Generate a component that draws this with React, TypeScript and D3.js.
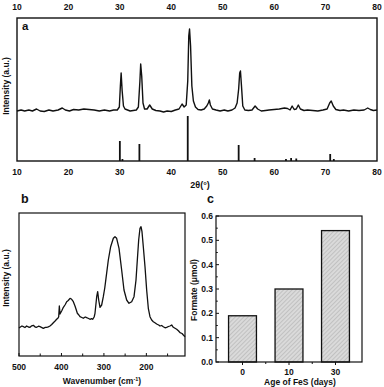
import React from 'react';
import * as d3 from 'd3';

// (a) XRD pattern: [2theta, intensity a.u.]
const xrdTrace: [number, number][] = [
  [10, 50], [10.8, 51], [11.5, 50], [12.3, 51], [13, 50], [13.8, 52], [14.5, 50], [15.3, 49.5],
  [16.2, 51], [17, 50], [18, 51], [18.8, 53], [19.4, 51], [20.2, 50], [21, 51.5], [22, 51],
  [23, 52], [24, 51.5], [25, 51], [26, 50], [27, 51], [28, 50], [28.8, 51], [29.5, 51],
  [29.9, 54], [30.1, 75], [30.25, 88], [30.45, 70], [30.7, 55], [31, 52], [31.5, 51], [32, 50],
  [32.6, 50.5], [33.2, 51], [33.6, 54], [33.9, 80], [34.05, 97], [34.25, 85], [34.5, 58], [34.8, 52],
  [35.3, 52], [35.8, 56], [36.3, 52], [37, 50.5], [37.8, 50], [38.5, 49], [39.2, 50], [40, 49.5],
  [40.8, 51], [41.5, 52], [42.1, 57], [42.5, 54], [42.9, 56], [43.2, 80], [43.4, 125], [43.55, 132],
  [43.75, 115], [44, 75], [44.3, 60], [44.7, 54], [45.2, 51.5], [45.8, 51], [46.4, 52], [46.9, 55],
  [47.2, 58], [47.4, 61], [47.6, 56], [48, 52], [48.7, 51], [49.5, 50], [50.3, 51], [51, 50],
  [51.8, 51], [52.4, 53], [52.8, 58], [53.1, 72], [53.3, 88], [53.45, 90], [53.65, 75], [53.9, 55],
  [54.3, 51], [55, 50.5], [55.7, 51], [56.3, 55], [56.8, 52], [57.5, 50], [58.3, 50.5], [59, 51],
  [60, 51.5], [61, 52], [62, 53], [62.6, 52.5], [63.1, 51], [63.5, 55], [63.9, 51.5], [64.3, 52],
  [64.7, 56], [65.1, 52], [65.8, 50.5], [66.5, 51], [67.5, 50.5], [68.5, 50], [69.5, 51], [70.3, 52],
  [70.8, 58], [71.1, 60], [71.5, 55], [72, 51.5], [72.8, 50.5], [73.5, 51], [74.5, 50], [75.5, 51],
  [76.5, 50.5], [77.5, 51], [78.2, 53], [78.7, 51.5], [79.3, 50.5], [80, 51],
];
// reference stick pattern
const refPositions = [30.0, 30.5, 33.8, 43.2, 53.1, 56.2, 62.3, 63.3, 64.3, 70.9, 71.6];
const refHeights = [20, 2, 17, 45, 16, 3, 2, 3, 2.5, 7, 2];
const xrdTicks = [10, 20, 30, 40, 50, 60, 70, 80];

// (b) Raman spectrum: [wavenumber, intensity a.u.]
const ramanTrace: [number, number][] = [
  [500, 28], [497.6, 28.7], [493, 30], [489.8, 29.3], [486, 28.5], [481.9, 30], [478, 29], [474, 28.7],
  [470, 30.2], [466.2, 30.7], [462, 29], [458.4, 28.7], [454, 29.8], [450.5, 29.3], [446, 28.4],
  [442.7, 27.7], [438, 28.6], [434.8, 28.7], [431, 29.2], [427, 30], [423, 31.5], [419.1, 33.3],
  [415, 35], [411.3, 36.7], [408, 38], [406.5, 39.3], [405, 50], [403.4, 42], [399, 45.5], [395.5, 48.7],
  [391, 51.5], [387.7, 54.3], [384, 55.5], [379.8, 57.7], [375.9, 56.7], [372, 54.3], [368.1, 50],
  [365, 46], [362.6, 42.7], [359, 41], [356.3, 39.3], [352, 38.5], [348.5, 37.7], [344, 39],
  [340.6, 38.3], [336, 37.5], [332.8, 36.7], [329, 37.4], [326.5, 36.7], [323, 39], [321, 42.7],
  [317, 59.3], [314.7, 64.3], [312.3, 56], [309.2, 48.7], [305.3, 51], [301.4, 59.3], [298, 68],
  [295.1, 77.7], [289.6, 96], [284.1, 109.3], [277.8, 117.7], [273.9, 119.3], [270, 117.7],
  [264.4, 107.7], [258.2, 86], [252.7, 66], [246.4, 56], [240.9, 52.7], [234.6, 54.3], [229.1, 59.3],
  [224.4, 76], [221.3, 96], [218.1, 116], [215, 127.7], [212.6, 129.3], [210.3, 124.3], [207.2, 109.3],
  [203.2, 89.3], [199.3, 66], [195.4, 47.7], [191.5, 39.3], [187.5, 36], [183.6, 34.3], [179, 33],
  [175.8, 32], [171, 31], [167.9, 30], [164, 30.5], [160.1, 29.3], [156, 28.2], [152.2, 28.7],
  [148, 29.5], [144.4, 30], [140.4, 31], [136.5, 28.7], [132.6, 27.7], [128.6, 26.7], [124, 25],
  [120.8, 23.3], [116, 22.5], [112.9, 21], [109, 19.3],
];
const ramanTicks = [500, 400, 300, 200];
const ramanMinor = [450, 350, 250, 150];

// (c) Formate vs age of FeS
const ageCategories = ['0', '10', '30'];
const formateValues = [0.19, 0.3, 0.54];
const formateTicks = [0, 0.1, 0.2, 0.3, 0.4, 0.5, 0.6];

const FONT = '"Liberation Sans", Arial, sans-serif';
const INK = '#111';

export default function App() {
  // panel a
  const ax = d3.scaleLinear().domain([10, 80]).range([17, 377]);
  const ay = d3.scaleLinear().domain([0, 143]).range([161, 18]);
  const xrdLine = d3.line<[number, number]>().x(d => ax(d[0])).y(d => ay(d[1]));

  // panel b
  const bx = d3.scaleLinear().domain([500, 109]).range([19, 185]);
  const by = d3.scaleLinear().domain([0, 143]).range([356, 213]);
  const ramanLine = d3.line<[number, number]>().x(d => bx(d[0])).y(d => by(d[1]));

  // panel c
  const cx = d3.scaleBand<string>().domain(ageCategories).range([216, 362]).paddingInner(0.4).paddingOuter(0.27);
  const cy = d3.scaleLinear().domain([0, 0.6]).range([362, 216]);
  const minorY = d3.range(0.05, 0.6, 0.1);

  const t = { fontFamily: FONT, fontWeight: 'bold' as const, fontSize: 8.5, fill: INK };

  return (
    <svg width={384} height={387} style={{ position: 'absolute', left: 0, top: 0, background: '#fff' }}>
      <defs>
        <pattern id="hatch" width={3} height={3} patternUnits="userSpaceOnUse" patternTransform="rotate(45)">
          <rect width={3} height={3} fill="#dadada" />
          <line x1={0} y1={0} x2={0} y2={3} stroke="#9a9a9a" strokeWidth={0.8} />
        </pattern>
      </defs>

      {/* ---- panel a ---- */}
      <rect x={17} y={18} width={360} height={143} fill="none" stroke={INK} strokeWidth={1.4} />
      {xrdTicks.map(v => (
        <g key={v}>
          <text {...t} x={ax(v)} y={10} textAnchor="middle">{v}</text>
          <text {...t} x={ax(v)} y={175} textAnchor="middle">{v}</text>
        </g>
      ))}
      <path d={xrdLine(xrdTrace) || ''} fill="none" stroke={INK} strokeWidth={1.4} strokeLinejoin="round" />
      {refPositions.map((p, i) => (
        <line key={i} x1={ax(p)} x2={ax(p)} y1={ay(0)} y2={ay(refHeights[i])} stroke={INK} strokeWidth={1.8} />
      ))}
      <text {...t} fontSize={11.5} x={22} y={30}>a</text>
      <text {...t} fontSize={9} x={200} y={188} textAnchor="middle">2θ(°)</text>
      <text {...t} transform="translate(9,86) rotate(-90)" textAnchor="middle">Intensity (a.u.)</text>

      {/* ---- panel b ---- */}
      <text {...t} fontSize={12.5} x={21} y={203}>b</text>
      <rect x={19} y={213} width={166} height={143} fill="none" stroke={INK} strokeWidth={1.2} />
      {ramanTicks.map(v => (
        <g key={v}>
          <line x1={bx(v)} x2={bx(v)} y1={356} y2={353} stroke={INK} strokeWidth={1} />
          <text {...t} x={bx(v)} y={370} textAnchor="middle">{v}</text>
        </g>
      ))}
      {ramanMinor.map(v => (
        <line key={v} x1={bx(v)} x2={bx(v)} y1={356} y2={353.5} stroke={INK} strokeWidth={1} />
      ))}
      <path d={ramanLine(ramanTrace) || ''} fill="none" stroke={INK} strokeWidth={1.3} strokeLinejoin="round" />
      <text {...t} x={102} y={384} textAnchor="middle">
        Wavenumber (cm<tspan fontSize={5.5} dy={-3}>-1</tspan><tspan dy={3}>)</tspan>
      </text>
      <text {...t} transform="translate(9,278) rotate(-90)" textAnchor="middle">Intensity (a.u.)</text>

      {/* ---- panel c ---- */}
      <text {...t} fontSize={12.5} x={207} y={203}>c</text>
      {ageCategories.map((c, i) => (
        <rect key={c} x={cx(c)} y={cy(formateValues[i])} width={cx.bandwidth()} height={cy(0) - cy(formateValues[i])}
          fill="url(#hatch)" stroke={INK} strokeWidth={1.3} />
      ))}
      <rect x={216} y={216} width={146} height={146} fill="none" stroke={INK} strokeWidth={1.2} />
      {formateTicks.map(v => (
        <g key={v}>
          <line x1={216} x2={219} y1={cy(v)} y2={cy(v)} stroke={INK} strokeWidth={1} />
          <text {...t} x={213} y={cy(v) + 3} textAnchor="end">{v.toFixed(1)}</text>
        </g>
      ))}
      {minorY.map(v => (
        <line key={v} x1={216} x2={217.8} y1={cy(v)} y2={cy(v)} stroke={INK} strokeWidth={1} />
      ))}
      {ageCategories.map((c, i) => {
        const xc = (cx(c) || 0) + cx.bandwidth() / 2;
        return (
          <g key={c}>
            <line x1={xc} x2={xc} y1={362} y2={365} stroke={INK} strokeWidth={1} />
            <text {...t} x={xc} y={375} textAnchor="middle">{c}</text>
            {i < ageCategories.length - 1 && (
              <line x1={xc + cx.step() / 2} x2={xc + cx.step() / 2} y1={362} y2={364} stroke={INK} strokeWidth={1} />
            )}
          </g>
        );
      })}
      <text {...t} x={300} y={385} textAnchor="middle">Age of FeS (days)</text>
      <text {...t} transform="translate(197,290) rotate(-90)" textAnchor="middle">Formate (μmol)</text>
    </svg>
  );
}
